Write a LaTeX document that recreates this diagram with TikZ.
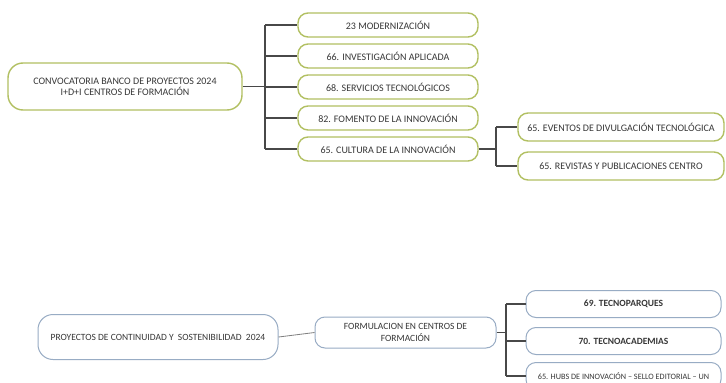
\documentclass[tikz,border=0pt]{standalone}
\usepackage{fontspec}
\setmainfont{Carlito}
\usetikzlibrary{positioning}

\definecolor{oliveline}{RGB}{178,192,98}
\definecolor{blueline}{RGB}{152,172,196}
\definecolor{wireline}{RGB}{72,72,72}
\definecolor{inkgray}{RGB}{55,55,55}

\tikzset{
  greenbox/.style={draw=oliveline, line width=1.4pt, rounded corners=10pt, fill=white,
    inner sep=0pt, align=center, text=inkgray, font=\fontsize{10}{11}\selectfont},
  bluebox/.style={greenbox, draw=blueline, line width=1pt, font=\fontsize{9.5}{12}\selectfont},
  wire/.style={draw=wireline, line width=1.1pt},
}

\begin{document}
\begin{tikzpicture}[x=1pt,y=-1pt]
        \useasboundingbox[fill=white] (0,0) rectangle (726,383);

          % upper tree
          \node[greenbox, rounded corners=15pt, minimum width=234pt, minimum height=47pt] (main) at (125,86.5)
            {CONVOCATORIA BANCO DE PROYECTOS 2024\\I+D+I CENTROS DE FORMACIÓN};

          \foreach \i/\txt in {1/23 MODERNIZACIÓN, 2/66. INVESTIGACIÓN APLICADA, 3/68. SERVICIOS TECNOLÓGICOS,
                               4/82. FOMENTO DE LA INNOVACIÓN, 5/65. CULTURA DE LA INNOVACIÓN}{
            \node[greenbox, minimum width=180pt, minimum height=24pt] (sub\i) at (388,{25+31*(\i-1)}) {\txt};
            \draw[wire] (265,0 |- sub\i.west) -- (sub\i.west);
          }
          \coordinate (busa) at (265,0);
          \draw[wire] (busa |- sub1.west) -- (busa |- sub5.west);
          \draw[wire] (main.east) -- (busa |- main.east);

          \node[greenbox, minimum width=206pt, minimum height=28pt] (cul1) at (621,127)
            {65. EVENTOS DE DIVULGACIÓN TECNOLÓGICA};
          \node[greenbox, minimum width=206pt, minimum height=28pt] (cul2) at (621,166)
            {65. REVISTAS Y PUBLICACIONES CENTRO};
          \coordinate (busb) at (496,0);
          \draw[wire] (sub5.east) -- (busb |- sub5.east);
          \draw[wire] (busb |- cul1.west) -- (busb |- cul2.west);
          \draw[wire] (busb |- cul1.west) -- (cul1.west);
          \draw[wire] (busb |- cul2.west) -- (cul2.west);

          % lower tree
          \node[bluebox, rounded corners=15pt, minimum width=240pt, minimum height=45pt] (cont) at (158,337)
            {PROYECTOS DE CONTINUIDAD Y\ \ SOSTENIBILIDAD\ \ 2024};
          \node[bluebox, minimum width=181pt, minimum height=31pt] (form) at (405.5,332.5)
            {FORMULACION EN CENTROS DE\\FORMACIÓN};
          \draw[wire, line width=0.8pt, draw=gray] (cont.east) -- (form.west);

          \foreach \i/\yy/\txt in {1/304/\textbf{69. TECNOPARQUES}, 2/341/\textbf{70. TECNOACADEMIAS},
                                   3/376/{\fontsize{8.2}{9}\selectfont 65. HUBS DE INNOVACIÓN -- SELLO EDITORIAL -- UN}}{
            \node[bluebox, minimum width=195pt, minimum height=27pt] (red\i) at (623.5,\yy) {\txt};
            \draw[wire] (506,0 |- red\i.west) -- (red\i.west);
          }
          \coordinate (busc) at (506,0);
          \draw[wire] (busc |- red1.west) -- (busc |- red3.west);
          \draw[wire] (form.east) -- (busc |- form.east);
        \end{tikzpicture}
\end{document}
